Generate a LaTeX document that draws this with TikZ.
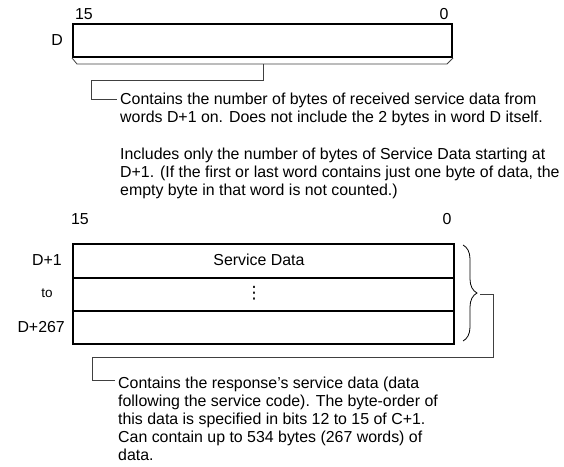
\documentclass[tikz,border=0pt]{standalone}
\usepackage{fontspec}
\setmainfont{Liberation Sans}
\newfontfamily\dotsfont{DejaVu Sans}
\usetikzlibrary{decorations.pathreplacing}
\begin{document}
\begin{tikzpicture}[x=1pt,y=-1pt,
  txt/.style={font=\fontsize{15.9}{18}\selectfont, inner sep=0pt, anchor=base west},
  lbl/.style={font=\fontsize{15.9}{18}\selectfont, inner sep=0pt},
  cell/.style={draw, line width=2pt, minimum width=381pt, inner sep=0pt, anchor=north west},
  conn/.style={draw=black!75, line width=0.8pt},
  bracestyle/.style={draw=black, line width=0.8pt, decorate, decoration={brace, amplitude=14pt}}
]
\useasboundingbox (0,0) rectangle (564,466);

% ---- word D ----
\node[lbl, anchor=base] (t15a) at (84,19.5) {15};
\node[lbl, anchor=base] (t0a) at (444,19.5) {0};
\node[lbl, anchor=base] (tD) at (57,45.5) {D};
\node[cell, minimum width=379pt, minimum height=33pt] (D0) at (72,23) {};

\coordinate (br1) at (77,64);
\coordinate (br2) at (447,64);
\coordinate (brm) at (263,64);
\coordinate (c1a) at (263,80);
\coordinate (c1b) at (91,80);
\coordinate (c1c) at (91,99);
\coordinate (c1end) at (117,99);
\draw[conn] (D0.south west) -- (br1) -- (br2) -- (D0.south east);
\draw[conn] (brm) -- (c1a) -- (c1b) -- (c1c) -- (c1end);

\node[txt] (u1) at (120,104.5) {Contains the number of bytes of received service data from};
\node[txt] (u2) at (120,122.5) {words D+1 on. Does not include the 2 bytes in word D itself.};
\node[txt] (u3) at (120,159.5) {Includes only the number of bytes of Service Data starting at};
\node[txt] (u4) at (120,177.5) {D+1. (If the first or last word contains just one byte of data, the};
\node[txt] (u5) at (120,195.5) {empty byte in that word is not counted.)};

% ---- words D+1 to D+267 ----
\node[lbl, anchor=base] (t15b) at (80,224.5) {15};
\node[lbl, anchor=base] (t0b) at (447,224.5) {0};
\node[cell, minimum height=34pt] (r1) at (72,243) {};
\node[cell, minimum height=33pt] (r2) at (72,277) {};
\node[cell, minimum height=33pt] (r3) at (72,310) {};
\node[lbl] (sd) at (259,260) {Service Data};
\node[lbl, font=\dotsfont\fontsize{17}{18}\selectfont] (dots) at (254,293) {⋮};
\node[lbl, anchor=base east] (l1) at (62,265.5) {D+1};
\node[lbl, font=\fontsize{13.5}{15}\selectfont, anchor=base] (l2) at (47,297.5) {to};
\node[lbl, anchor=base east] (l3) at (65,332.5) {D+267};

\coordinate (bs) at (463,245);
\coordinate (be) at (463,341);
\draw[bracestyle] (bs) -- (be);
\coordinate (btip) at (480,294);
\coordinate (c2a) at (493,294);
\coordinate (c2b) at (493,357);
\coordinate (c2c) at (92,357);
\coordinate (c2d) at (92,380);
\coordinate (c2end) at (115,380);
\draw[conn] (btip) -- (c2a) -- (c2b) -- (c2c) -- (c2d) -- (c2end);

\node[txt] (w1) at (118,388.5) {Contains the response’s service data (data};
\node[txt] (w2) at (118,406.5) {following the service code). The byte-order of};
\node[txt] (w3) at (118,424.5) {this data is specified in bits 12 to 15 of C+1.};
\node[txt] (w4) at (118,442.5) {Can contain up to 534 bytes (267 words) of};
\node[txt] (w5) at (118,460.5) {data.};
\end{tikzpicture}
\end{document}
